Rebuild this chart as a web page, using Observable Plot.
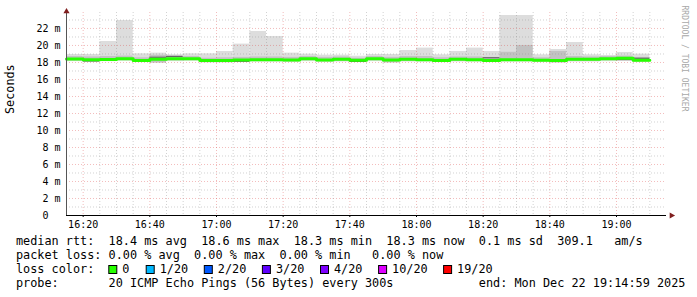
<!DOCTYPE html>
<html><head><meta charset="utf-8">
<script src="https://cdn.jsdelivr.net/npm/d3@7"></script>
<script src="https://cdn.jsdelivr.net/npm/@observablehq/plot@0.6"></script>
<style>
html,body{margin:0;padding:0;background:#fff;}
#chart svg{display:block;}
</style>
</head><body><div id="chart"></div>
<script>
// ---- data ----
const startTime = "2025-12-22T16:15:00Z";
const endTime = "2025-12-22T19:15:00Z";
const medianRtt = [18.41,18.33,18.36,18.43,18.24,18.37,18.45,18.45,18.24,18.24,18.30,18.33,18.33,18.29,18.45,18.29,18.37,18.26,18.45,18.29,18.37,18.33,18.24,18.37,18.33,18.24,18.33,18.33,18.26,18.24,18.37,18.37,18.45,18.49,18.26];
const smokeMax  = [18.94,18.94,20.47,22.94,19.02,19.10,18.90,19.02,19.02,19.29,20.16,21.65,21.06,19.10,18.98,18.86,18.86,18.74,18.94,18.94,19.41,19.69,18.90,19.29,19.69,19.29,23.53,23.53,18.90,19.53,20.35,18.90,18.82,19.18,18.98];
const smokeMin  = [18.10,18.05,18.10,18.15,18.00,17.90,18.10,18.15,17.95,17.95,18.00,18.05,18.05,18.00,18.10,18.00,18.05,18.00,18.10,17.90,18.05,18.05,18.00,18.05,18.05,18.00,18.05,18.05,18.00,17.90,18.05,18.05,18.10,18.15,18.00];
const innerHi   = [18.70,18.65,18.70,18.75,18.55,18.85,18.75,18.70,18.50,18.55,18.60,18.65,18.65,18.60,18.70,18.60,18.65,18.50,18.70,18.60,18.70,18.70,18.55,18.65,18.65,18.60,19.20,20.00,18.55,19.30,18.70,18.65,18.70,18.75,18.60];
const innerLo   = [18.20,18.15,18.20,18.25,18.10,17.95,18.25,18.25,18.05,18.05,18.10,18.15,18.15,18.10,18.25,18.10,18.15,18.10,18.25,18.00,18.15,18.15,18.10,18.15,18.15,18.10,18.15,18.15,18.10,18.00,18.15,18.15,18.25,18.30,18.10];
const darkLine  = [null,18.17,null,null,null,18.62,18.72,null,null,null,18.14,null,null,null,null,null,null,18.13,null,null,null,null,18.12,null,null,18.55,null,null,null,null,null,null,null,18.33,18.50];
const yTicks = [0,2,4,6,8,10,12,14,16,18,20,22];
const xTickLabels = ["16:20","16:40","17:00","17:20","17:40","18:00","18:20","18:40","19:00"];
const yLabel = "Seconds";
const watermark = "RRDTOOL / TOBI OETIKER";
const statsRtt  = "median rtt:  18.4 ms avg  18.6 ms max  18.3 ms min  18.3 ms now  0.1 ms sd  309.1   am/s";
const statsLoss = "packet loss: 0.00 % avg  0.00 % max  0.00 % min   0.00 % now";
const lossTitle = "loss color:";
const lossLabels = ["0","1/20","2/20","3/20","4/20","10/20","19/20"];
const lossColors = ["#26ff00","#00b8ff","#0059ff","#5e00ff","#7e00ff","#dd00ff","#ff0000"];
const probeLine = "probe:       20 ICMP Echo Pings (56 Bytes) every 300s            end: Mon Dec 22 19:14:59 2025";

// ---- build ----
const t0 = new Date(startTime), t1 = new Date(endTime);
const STEP = 5 * 60000;
const bars = medianRtt.map((m, i) => ({
  x1: new Date(+t0 + i * STEP), x2: new Date(+t0 + (i + 1) * STEP),
  med: m, max: smokeMax[i], min: smokeMin[i], hi: innerHi[i], lo: innerLo[i], dark: darkLine[i]
}));
const medianPts = bars.map(b => ({t: b.x1, v: b.med}));
medianPts.push({t: bars[bars.length - 1].x2, v: bars[bars.length - 1].med});

const xMajor = xTickLabels.map(s => new Date(`2025-12-22T${s}:00Z`));
const majorSet = new Set(xMajor.map(d => +d));
const xMinor = d3.utcMinute.every(5).range(new Date(+t0 + STEP), t1).filter(d => !majorSet.has(+d));
const yMajor = yTicks.filter(v => v > 0);
const yMinor = d3.range(1, 24, 2);

const mono = "'DejaVu Sans Mono', monospace";
const gridMinor = {stroke: "#8f8f8f", strokeOpacity: 0.4, strokeDasharray: "1,2"};
const gridMajor = {stroke: "#de5050", strokeOpacity: 0.38, strokeDasharray: "1,2"};

const chart = Plot.plot({
  width: 697, height: 297,
  marginLeft: 66, marginRight: 31, marginTop: 12, marginBottom: 82,
  style: {fontFamily: mono, fontSize: "10px", color: "#000", background: "#fff"},
  x: {type: "utc", domain: [t0, t1]},
  y: {domain: [0, 23.88]},
  marks: [
    Plot.rect(bars, {x1: "x1", x2: "x2", y1: "min", y2: "max", fill: "#dddddd"}),
    Plot.rect(bars, {x1: "x1", x2: "x2", y1: "lo", y2: "hi", fill: "#c2c2c2"}),
    Plot.ruleY(bars.filter(b => b.dark != null), {x1: "x1", x2: "x2", y: "dark", stroke: "#555", strokeWidth: 1}),
    Plot.ruleY(yMinor, gridMinor),
    Plot.ruleY(yMajor, gridMajor),
    Plot.ruleX(xMinor, gridMinor),
    Plot.ruleX(xMajor, gridMajor),
    Plot.line(medianPts, {x: "t", y: "v", curve: "step-after", stroke: "#26ff00", strokeWidth: 3}),
    Plot.axisY(yTicks, {tickFormat: d => d === 0 ? "0\u00a0\u00a0" : `${d} m`, tickSize: 0, tickPadding: 6, label: null, fontSize: 10}),
    Plot.axisX(xMajor, {tickFormat: d3.utcFormat("%H:%M"), tickSize: 2, tickPadding: 3, label: null, fontSize: 10}),
    Plot.ruleY([0], {stroke: "#000"}),
    Plot.ruleX([t0], {stroke: "#555"}),
    Plot.dot([t0], {x: d => d, y: () => 23.88, symbol: "triangle", r: 2.3, fill: "#801f1f", stroke: null, dy: -1}),
    Plot.dot([t1], {x: d => d, y: () => 0, symbol: "triangle", r: 2.3, fill: "#801f1f", stroke: null, rotate: 90, dx: 5}),
    Plot.text([yLabel], {frameAnchor: "left", text: d => d, rotate: -90, dx: -56, fontSize: 11.8, fill: "#000"}),
    Plot.text([watermark], {frameAnchor: "top-right", text: d => d, rotate: 90, dx: 21, dy: -7, textAnchor: "start", fontSize: 8, fill: "#a8a8a8"})
  ]
});
document.getElementById("chart").appendChild(chart);

// ---- legend text below the plot ----
const svg = d3.select(chart);
const g = svg.append("g").attr("font-family", mono).attr("font-size", 11.83)
  .attr("fill", "#000").attr("text-anchor", "start");
const addLine = (txt, x, y) => g.append("text").attr("x", x).attr("y", y)
  .attr("text-anchor", "start").attr("xml:space", "preserve").style("white-space", "pre").text(txt);
addLine(statsRtt, 16, 245);
addLine(statsLoss, 16, 259);
addLine(lossTitle, 16, 273);
addLine(probeLine, 16, 287);
let sx = 108.3;
lossLabels.forEach((lab, i) => {
  g.append("rect").attr("x", sx + 0.5).attr("y", 265.5).attr("width", 8).attr("height", 8)
    .attr("fill", lossColors[i]).attr("stroke", "#000").attr("stroke-width", 1);
  addLine(lab, sx + 14, 273);
  sx += 30.5 + lab.length * 6.9;
});
</script>
</body></html>
